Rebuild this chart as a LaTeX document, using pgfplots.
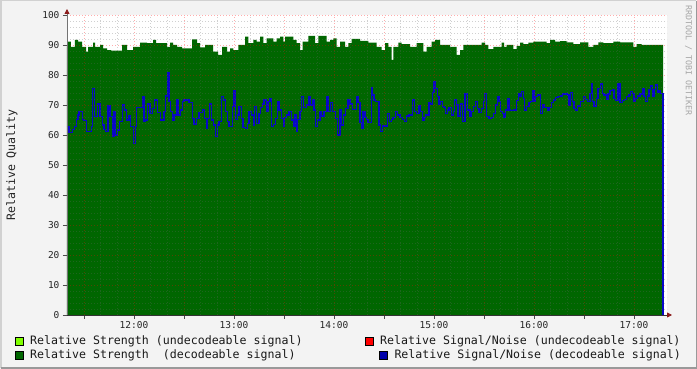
\documentclass[border=0pt]{standalone}
\usepackage{fontspec}
\setmainfont{DejaVu Sans}
\setmonofont{DejaVu Sans Mono}
\usepackage{pgfplots}
\pgfplotsset{compat=1.18}
\usetikzlibrary{arrows.meta}
\definecolor{canvas}{HTML}{F3F3F3}
\definecolor{dgreen}{HTML}{006600}
\definecolor{lgreen}{HTML}{80FF00}
\definecolor{snrblue}{HTML}{0000AA}
\definecolor{lineblue}{HTML}{0808C8}
\definecolor{arrowred}{HTML}{8B1A1A}
\begin{document}
\begin{tikzpicture}
\fill[canvas] (0pt,0pt) rectangle (697pt,369pt);
\draw[line width=1.5pt, black!18] (0.75pt,0.75pt) -- (0.75pt,368.25pt) -- (696.25pt,368.25pt);
\draw[line width=1.5pt, black!40] (0.75pt,0.75pt) -- (696.25pt,0.75pt) -- (696.25pt,368.25pt);
\begin{axis}[
  at={(67pt,54pt)}, anchor=south west,
  scale only axis, width=600pt, height=300pt,
  xmin=11.33, xmax=17.33, ymin=0, ymax=100,
  axis lines=left, axis on top,
  axis background/.style={fill=white},
  x axis line style={draw=black!80, line width=0.8pt, shorten >=-5pt, -{Triangle[length=5pt,width=5pt,color=arrowred]}},
  y axis line style={draw=black!55, line width=0.8pt, shorten >=-6pt, -{Triangle[length=5pt,width=5pt,color=arrowred]}},
  xtick={11.5,12,...,17},
  xticklabels={,12:00,,13:00,,14:00,,15:00,,16:00,,17:00},
  ytick={0,10,...,100},
  minor x tick num=2, minor y tick num=4,
  grid=both,
  major grid style={red, opacity=0.32, line width=0.8pt, dash pattern=on 1pt off 2pt},
  minor grid style={black!60, opacity=0.3, line width=0.8pt, dash pattern=on 1pt off 2pt},
  tick align=outside, major tick length=4pt, minor tick length=0pt,
  tick style={black!70, line width=0.8pt},
  ticklabel style={font=\fontsize{9.5}{10}\selectfont\ttfamily, text=black!85},
  /pgf/number format/assume math mode=true,
  xticklabel style={yshift=1pt},
]
\addplot[const plot, fill=dgreen, draw=none] coordinates {
(11.33,89.5)(11.34,91.1)(11.37,89.4)(11.41,91.7)(11.44,91.1)(11.48,89.4)(11.52,87.8)(11.54,89.4)(11.59,90.8)(11.61,89.4)(11.66,90)(11.69,88.9)(11.73,88.3)(11.77,88.1)(11.88,90)(11.93,88.3)(11.99,89.4)(12.06,90.8)(12.13,90.6)(12.19,91.7)(12.22,90.6)(12.33,89.4)(12.36,90.8)(12.39,90)(12.43,89.4)(12.48,88.9)(12.58,91.9)(12.63,90.6)(12.66,89.2)(12.71,90)(12.79,87.8)(12.84,86.7)(12.88,89.4)(12.93,87.8)(12.96,88.9)(12.993,88.3)(13.043,90)(13.11,92.8)(13.143,90.6)(13.193,91.7)(13.227,91.1)(13.26,92.8)(13.293,90.6)(13.327,92.2)(13.393,91.1)(13.427,92.2)(13.46,92.8)(13.493,91.1)(13.51,92.8)(13.593,91.7)(13.627,90.6)(13.66,88.3)(13.687,91.1)(13.743,93)(13.81,90.6)(13.843,93)(13.927,91.1)(13.96,91.7)(13.993,92.2)(14.027,89.4)(14.06,91.1)(14.11,89.4)(14.143,90.6)(14.177,92)(14.26,91.4)(14.343,90.8)(14.427,89.4)(14.477,88.3)(14.51,90.6)(14.543,89.4)(14.577,85)(14.593,89.4)(14.643,90.8)(14.677,90.3)(14.76,89.4)(14.827,90.6)(14.893,87.8)(14.927,89.4)(14.977,91.1)(15.01,91.7)(15.06,90)(15.16,89.4)(15.227,86.7)(15.26,88.3)(15.293,90)(15.477,90.8)(15.51,90)(15.543,88.6)(15.593,89.4)(15.677,90.8)(15.70,89.4)(15.727,90)(15.793,88.6)(15.827,89.7)(15.86,90.8)(15.893,90.3)(15.943,90.8)(15.993,91.1)(16.127,90.6)(16.16,91.7)(16.21,91.1)(16.26,91.3)(16.327,90.9)(16.393,90.3)(16.46,90.9)(16.543,89.4)(16.593,90)(16.643,90.9)(16.693,90.6)(16.793,91.1)(16.86,90.9)(16.993,89.4)(17.027,90.3)(17.077,90)(17.29,90)
} \closedcycle;
\addplot[const plot, lineblue, line width=1.3pt] coordinates {
(11.33,62.78)(11.35,60.78)(11.383,61.89)(11.407,62.78)(11.427,65.22)(11.44,66.67)(11.45,67.78)(11.483,65.22)(11.50,64.78)(11.523,61.11)(11.577,62.78)(11.583,75.56)(11.607,66.11)(11.633,70.33)(11.66,66.11)(11.683,63.33)(11.70,61.89)(11.717,61.11)(11.74,69.67)(11.76,66.11)(11.783,59.67)(11.80,67.78)(11.817,60)(11.833,61.67)(11.857,64.44)(11.883,70)(11.907,68.33)(11.927,65)(11.95,66.33)(11.967,62.78)(11.993,57.22)(12.017,62.78)(12.027,69.22)(12.083,72.78)(12.10,64.44)(12.117,65)(12.133,70.33)(12.16,67.22)(12.183,68.89)(12.207,71.67)(12.233,67.44)(12.267,65)(12.30,67.78)(12.317,73)(12.333,80.78)(12.35,71.11)(12.367,67.78)(12.383,64.78)(12.40,66.67)(12.427,71.67)(12.44,66.67)(12.467,68.33)(12.483,71.11)(12.50,71.67)(12.55,70.78)(12.583,65.56)(12.60,63.67)(12.623,65.56)(12.65,67.44)(12.683,68.33)(12.707,65.56)(12.723,62.22)(12.733,65.56)(12.757,70.33)(12.777,65)(12.793,63.33)(12.817,59.44)(12.833,63.33)(12.85,64.44)(12.873,72.78)(12.893,71.67)(12.917,67.78)(12.933,64.44)(12.95,62.78)(12.983,69.44)(13.00,74.78)(13.017,65.22)(13.033,66.67)(13.05,69.44)(13.073,65.56)(13.09,62.44)(13.117,62.22)(13.133,63.89)(13.15,67.78)(13.173,66.67)(13.193,63.33)(13.207,69.44)(13.227,63.89)(13.25,67.22)(13.267,69.22)(13.283,70.33)(13.30,71.67)(13.327,67.78)(13.34,71.11)(13.36,72.22)(13.373,62.78)(13.393,63.56)(13.417,65.56)(13.433,71.11)(13.45,68.33)(13.473,65.56)(13.493,62.78)(13.507,65.89)(13.527,66.67)(13.55,67.78)(13.573,65)(13.593,62.78)(13.61,66.67)(13.623,61.11)(13.633,65.22)(13.66,67.78)(13.673,72.78)(13.693,69.22)(13.727,70)(13.75,72.78)(13.76,70)(13.783,71.67)(13.80,68.33)(13.817,62.78)(13.833,65)(13.86,67.78)(13.873,66.33)(13.90,67.78)(13.927,72.78)(13.94,67.78)(13.967,70.78)(13.983,67.78)(14.017,65.56)(14.033,60)(14.06,68.33)(14.077,63.33)(14.093,66.67)(14.117,68.89)(14.14,71.67)(14.16,70.33)(14.183,68.56)(14.227,72.78)(14.24,70.78)(14.26,64.11)(14.273,62.22)(14.29,67.78)(14.31,65.89)(14.327,65.22)(14.34,64.11)(14.373,75.89)(14.383,73.33)(14.40,71.67)(14.417,71.11)(14.45,63.33)(14.467,61.11)(14.483,63)(14.533,67.22)(14.557,64.44)(14.573,65.22)(14.59,65.89)(14.617,67.78)(14.633,66.67)(14.66,65.89)(14.683,65.22)(14.707,64.44)(14.727,66.33)(14.75,66.67)(14.783,71.67)(14.807,67.78)(14.827,67.22)(14.85,69.67)(14.867,67.78)(14.883,64.78)(14.90,65.89)(14.917,66.67)(14.95,70.78)(14.967,70.33)(14.983,74.11)(15.00,77.78)(15.017,75.56)(15.033,72.78)(15.05,70.33)(15.067,71.11)(15.083,69.44)(15.10,69.22)(15.117,67.22)(15.133,68.33)(15.15,69.22)(15.173,66.67)(15.193,67.78)(15.207,71.67)(15.227,70)(15.24,66.33)(15.267,70.33)(15.283,64.44)(15.31,73.67)(15.333,68.33)(15.36,66.33)(15.373,67.78)(15.393,69.44)(15.417,71.11)(15.433,68.89)(15.45,67.44)(15.473,68.89)(15.493,71.11)(15.507,73.89)(15.527,66.11)(15.55,65.56)(15.573,65.89)(15.593,67.22)(15.617,70)(15.633,72.78)(15.65,71.11)(15.667,67.78)(15.683,67.22)(15.70,65.89)(15.717,68.33)(15.733,72.22)(15.75,68.33)(15.767,68.11)(15.80,68.33)(15.827,71.44)(15.843,73.89)(15.86,72.78)(15.873,74.44)(15.893,72.22)(15.907,68.33)(15.927,69.44)(15.95,70.78)(15.967,71.11)(15.983,74.78)(16.00,71.11)(16.017,72.78)(16.033,73.33)(16.067,67.22)(16.083,70)(16.10,69.22)(16.133,68.33)(16.15,69.22)(16.173,70.78)(16.193,71.67)(16.217,72.56)(16.24,72.78)(16.267,73)(16.283,73.89)(16.30,73.67)(16.333,73.33)(16.35,70)(16.367,74.11)(16.383,71.11)(16.40,68.89)(16.417,68.33)(16.433,69.67)(16.45,69.44)(16.467,71.11)(16.493,72.78)(16.517,71.89)(16.533,71.11)(16.56,73.89)(16.573,77)(16.583,71.11)(16.60,69.67)(16.627,72.22)(16.64,75.56)(16.667,77)(16.683,73.89)(16.70,73.33)(16.727,71.89)(16.74,73.67)(16.76,74.78)(16.783,75)(16.80,72.22)(16.817,71.44)(16.84,77)(16.86,70.78)(16.883,71.44)(16.907,71.89)(16.927,72.78)(16.95,73.33)(16.967,74.44)(16.983,73.89)(17.00,71.11)(17.017,72.22)(17.033,73)(17.06,73.67)(17.083,75.56)(17.10,72.78)(17.117,71.11)(17.133,73)(17.15,75.22)(17.167,76.33)(17.183,73)(17.20,75.22)(17.217,76.67)(17.233,74.11)(17.25,74.78)(17.267,73.89)(17.29,0)
};
\end{axis}
\node[rotate=90, font=\fontsize{11.6}{13}\selectfont\ttfamily, text=black!85] at (12pt,204pt) {Relative Quality};
\node[rotate=-90, anchor=west, inner sep=0pt, font=\fontsize{8.3}{9}\selectfont\ttfamily, text=black!35] at (688.5pt,364pt) {RRDTOOL / TOBI OETIKER};
% legend
\begin{scope}[every node/.style={anchor=west, inner sep=0pt, font=\fontsize{11.6}{13}\selectfont\ttfamily, text=black!90}]
\filldraw[fill=lgreen, draw=black, line width=0.8pt] (15pt,23.3pt) rectangle (23pt,31.3pt);
\node at (30pt,27.3pt) {Relative Strength (undecodeable signal)};
\filldraw[fill=dgreen, draw=black, line width=0.8pt] (15pt,10pt) rectangle (23pt,18pt);
\node at (30pt,14pt) {Relative Strength\ \ (decodeable signal)};
\filldraw[fill=red, draw=black, line width=0.8pt] (365pt,23.3pt) rectangle (373pt,31.3pt);
\node at (380pt,27.3pt) {Relative Signal/Noise (undecodeable signal)};
\filldraw[fill=snrblue, draw=black, line width=0.8pt] (379.5pt,10pt) rectangle (387.5pt,18pt);
\node at (394.3pt,14pt) {Relative Signal/Noise (decodeable signal)};
\end{scope}
\pgfresetboundingbox
\path[use as bounding box] (0pt,0pt) rectangle (697pt,369pt);
\end{tikzpicture}
\end{document}
